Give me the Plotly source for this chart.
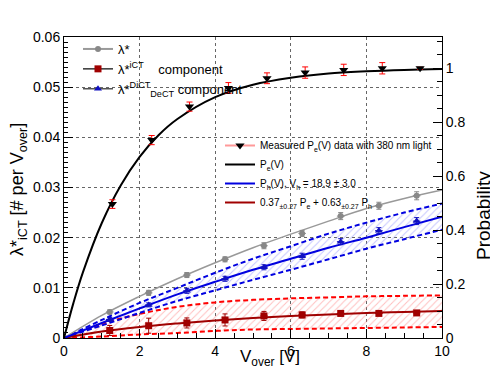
import plotly.graph_objects as go

# ---------------- data ----------------
# measured P_e(V) points (right axis, probability)
meas_x = [1.28, 2.32, 3.32, 4.35, 5.37, 6.38, 7.40, 8.42, 9.42]
meas_y = [0.496, 0.733, 0.857, 0.926, 0.962, 0.983, 0.993, 0.999, 0.999]
meas_err = [0.016, 0.017, 0.017, 0.020, 0.020, 0.021, 0.021, 0.021, 0.004]

# P_e(V) fit curve (right axis)
pe_x = [0, 0.25, 0.5, 1, 1.5, 2, 2.5, 3, 4, 5, 6, 7, 8, 9, 10]
pe_y = [0, 0.13, 0.243, 0.426, 0.565, 0.671, 0.751, 0.811, 0.892, 0.938, 0.964, 0.980, 0.988, 0.993, 0.996]

# component points (left axis)
comp_x = [1.21, 2.24, 3.25, 4.26, 5.29, 6.30, 7.32, 8.33, 9.33]
lam_tot = [0.0052, 0.0090, 0.01255, 0.01568, 0.01839, 0.02085, 0.0243, 0.02636, 0.02835]
lam_tot_err = [0.0004, 0.0005, 0.0005, 0.0005, 0.0006, 0.0006, 0.0007, 0.0007, 0.0008]
lam_ict = [0.0015, 0.00245, 0.0030, 0.0036, 0.0044, 0.0046, 0.0049, 0.0049, 0.0050]
lam_ict_err = [0.0010, 0.0015, 0.0010, 0.0012, 0.0009, 0.0006, 0.0005, 0.0002, 0.0002]
lam_dict = [0.0037, 0.0066, 0.0094, 0.0118, 0.0141, 0.0163, 0.0192, 0.0214, 0.0233]
lam_dict_err = [0.0004, 0.0004, 0.0005, 0.0005, 0.0005, 0.0006, 0.0006, 0.0006, 0.0007]
x_err = 0.1

# fitted curves (left axis)
fit_x = [0, 1, 2, 3, 4, 5, 6, 7, 8, 9, 10]
tot_fit = [0, 0.0045, 0.0083, 0.0118, 0.0150, 0.0180, 0.0207, 0.0233, 0.0258, 0.0278, 0.0295]
dict_fit = [0, 0.0030, 0.0059, 0.0087, 0.0112, 0.0136, 0.0158, 0.0180, 0.0200, 0.0221, 0.0242]
dict_up = [0, 0.0036, 0.0070, 0.0100, 0.0130, 0.0158, 0.0183, 0.0208, 0.0230, 0.0250, 0.0268]
dict_lo = [0, 0.0025, 0.0050, 0.0074, 0.0095, 0.0116, 0.0136, 0.0157, 0.0178, 0.0197, 0.0216]
ict_fit = [0, 0.0013, 0.0022, 0.0029, 0.0035, 0.0040, 0.0044, 0.0047, 0.0050, 0.0052, 0.0054]
ict_up = [0, 0.0028, 0.0048, 0.0062, 0.0071, 0.0076, 0.0079, 0.0081, 0.0083, 0.0084, 0.0085]
ict_lo = [0, 0.0003, 0.0007, 0.0010, 0.0014, 0.0017, 0.0018, 0.0019, 0.0020, 0.0021, 0.0022]

x_ticks = [0, 2, 4, 6, 8, 10]
y_ticks = [0, 0.01, 0.02, 0.03, 0.04, 0.05, 0.06]
y_tick_text = ["0", "0.01", "0.02", "0.03", "0.04", "0.05", "0.06"]
p_ticks = [0, 0.2, 0.4, 0.6, 0.8, 1.0]
p_tick_text = ["0", "0.2", "0.4", "0.6", "0.8", "1"]

# ---------------- styles ----------------
GRAY = "#999999"
DRED = "#a00000"
BLUE = "#0000e0"
RED = "#ff0000"
FONT = "Liberation Sans, Arial, Helvetica, sans-serif"
DASH = "5px,3px"

fig = go.Figure()

# red band (iCT component uncertainty)
fig.add_trace(go.Scatter(x=fit_x, y=ict_lo, mode="lines", line=dict(color=RED, width=2, dash=DASH, shape="spline"),
                         showlegend=False, hoverinfo="skip"))
fig.add_trace(go.Scatter(x=fit_x, y=ict_up, mode="lines", line=dict(color=RED, width=2, dash=DASH, shape="spline"),
                         fill="tonexty", fillcolor="rgba(0,0,0,0)",
                         fillpattern=dict(shape="/", fgcolor="#ff8080", bgcolor="rgba(0,0,0,0)", size=5, solidity=0.2),
                         showlegend=False, hoverinfo="skip"))
# blue band
fig.add_trace(go.Scatter(x=fit_x, y=dict_lo, mode="lines", line=dict(color=BLUE, width=2, dash=DASH, shape="spline"),
                         showlegend=False, hoverinfo="skip"))
fig.add_trace(go.Scatter(x=fit_x, y=dict_up, mode="lines", line=dict(color=BLUE, width=2, dash=DASH, shape="spline"),
                         fill="tonexty", fillcolor="rgba(0,0,0,0)",
                         fillpattern=dict(shape="/", fgcolor="#8c8cff", bgcolor="rgba(0,0,0,0)", size=5, solidity=0.2),
                         showlegend=False, hoverinfo="skip"))

# fit lines
fig.add_trace(go.Scatter(x=fit_x, y=tot_fit, mode="lines", line=dict(color=GRAY, width=1.5, shape="spline"),
                         showlegend=False))
fig.add_trace(go.Scatter(x=fit_x, y=ict_fit, mode="lines", line=dict(color=DRED, width=2, shape="spline"),
                         name="0.37<sub>±0.27</sub> P<sub>e</sub> + 0.63<sub>±0.27</sub> P<sub>h</sub>", legend="legend2", legendrank=4))
fig.add_trace(go.Scatter(x=fit_x, y=dict_fit, mode="lines", line=dict(color=BLUE, width=2, shape="spline"),
                         name="P<sub>h</sub>(V), V<sub>h</sub> = 18.9 ± 3.0", legend="legend2", legendrank=3))
fig.add_trace(go.Scatter(x=pe_x, y=pe_y, yaxis="y2", mode="lines", line=dict(color="black", width=2, shape="spline"),
                         name="P<sub>e</sub>(V)", legend="legend2", legendrank=2))

# component points
def pts(y, err, color, symbol, size):
    return go.Scatter(x=comp_x, y=y, mode="markers",
                      marker=dict(color=color, symbol=symbol, size=size, line=dict(width=0)),
                      error_y=dict(type="data", array=err, color=color, thickness=1, width=2.5),
                      error_x=dict(type="constant", value=x_err, color=color, thickness=1, width=0),
                      showlegend=False)

fig.add_trace(pts(lam_tot, lam_tot_err, "#888888", "circle", 6))
fig.add_trace(pts(lam_dict, lam_dict_err, "#1010c0", "triangle-up", 7))
fig.add_trace(pts(lam_ict, lam_ict_err, "#a00000", "square", 7))

# measured points
fig.add_trace(go.Scatter(x=meas_x, y=meas_y, yaxis="y2", mode="markers",
                         marker=dict(color="black", symbol="triangle-down", size=8),
                         error_y=dict(type="data", array=meas_err, color=RED, thickness=1, width=3),
                         showlegend=False))

# legend proxies
fig.add_trace(go.Scatter(x=[None], y=[None], mode="lines+markers", line=dict(color="#ff9999", width=2),
                         marker=dict(color="black", symbol="triangle-down", size=8),
                         name="Measured P<sub>e</sub>(V) data with 380 nm light", legend="legend2", legendrank=1))
fig.add_trace(go.Scatter(x=[None], y=[None], mode="lines+markers", line=dict(color=GRAY, width=2),
                         marker=dict(color="#888888", symbol="circle", size=6),
                         name="λ*", legend="legend", legendrank=1))
fig.add_trace(go.Scatter(x=[None], y=[None], mode="lines+markers", line=dict(color="#333333", width=1.5),
                         marker=dict(color="#a00000", symbol="square", size=7),
                         name="λ*<sup>iCT</sup>    component", legend="legend", legendrank=2))
fig.add_trace(go.Scatter(x=[None], y=[None], mode="lines+markers", line=dict(color="#555555", width=1.5),
                         marker=dict(color="#1010c0", symbol="triangle-up", size=7),
                         name="λ*<sup>DiCT</sup><sub>DeCT</sub> component", legend="legend", legendrank=3))

# the page places the figure 8px from the top-left corner of the window
OFF = 8
W, H = 498 - OFF, 376 - OFF
plot_l, plot_r, plot_t, plot_b = 64, 442, 37, 338   # target plot frame in window pixels
ml, mr, mt, mb = plot_l - OFF, 498 - plot_r, plot_t - OFF, 376 - plot_b
pw, ph = plot_r - plot_l, plot_b - plot_t

def px_x(p):
    return (p - plot_l) / pw

def px_y(p):
    return (plot_b - p) / ph

fig.update_layout(
    width=W, height=H,
    margin=dict(l=ml, r=mr, t=mt, b=mb, pad=0),
    paper_bgcolor="white", plot_bgcolor="white",
    font=dict(family=FONT, size=14, color="black"),
    xaxis=dict(range=[0, 10], tickvals=x_ticks, ticks="inside", ticklen=9, tickcolor="black",
               showline=True, linecolor="black", linewidth=1, mirror=True,
               showgrid=True, gridcolor="#666666", griddash="dot", gridwidth=1, zeroline=False,
               minor=dict(dtick=0.5, ticks="inside", ticklen=5, tickcolor="black", showgrid=False),
               tickfont=dict(size=14)),
    yaxis=dict(range=[0, 0.06], tickvals=y_ticks, ticktext=y_tick_text, ticks="inside", ticklen=9, tickcolor="black",
               showline=True, linecolor="black", linewidth=1,
               showgrid=True, gridcolor="#666666", griddash="dot", gridwidth=1, zeroline=False,
               minor=dict(dtick=0.001, ticks="inside", ticklen=4, tickcolor="black", showgrid=False),
               tickfont=dict(size=14)),
    yaxis2=dict(range=[0, 301 / 270], overlaying="y", side="right", tickvals=p_ticks, ticktext=p_tick_text,
                ticks="inside", ticklen=9, tickcolor="black", showline=True, linecolor="black", linewidth=1,
                showgrid=False, zeroline=False,
                minor=dict(dtick=0.05, ticks="inside", ticklen=5, tickcolor="black", showgrid=False),
                tickfont=dict(size=14)),
    legend=dict(x=px_x(78), y=px_y(34), xanchor="left", yanchor="top", bgcolor="rgba(0,0,0,0)",
                font=dict(size=13, family=FONT), tracegroupgap=0, itemwidth=30, traceorder="normal"),
    legend2=dict(x=px_x(220), y=px_y(131), xanchor="left", yanchor="top", bgcolor="rgba(0,0,0,0)",
                 font=dict(size=10, family=FONT), tracegroupgap=0, itemwidth=30, traceorder="normal"),
    annotations=[
        dict(text="V<sub>over</sub> [V]", xref="paper", yref="paper", x=px_x(270), y=px_y(358),
             xanchor="center", yanchor="middle", showarrow=False, font=dict(size=17)),
        dict(text="λ*<sub>iCT</sub> [# per V<sub>over</sub>]", xref="paper", yref="paper", x=px_x(18), y=px_y(190),
             xanchor="center", yanchor="middle", showarrow=False, textangle=-90, font=dict(size=18)),
        dict(text="Probability", xref="paper", yref="paper", x=px_x(483), y=px_y(215),
             xanchor="center", yanchor="middle", showarrow=False, textangle=-90, font=dict(size=19)),
    ],
)

fig.write_html("out.html")
